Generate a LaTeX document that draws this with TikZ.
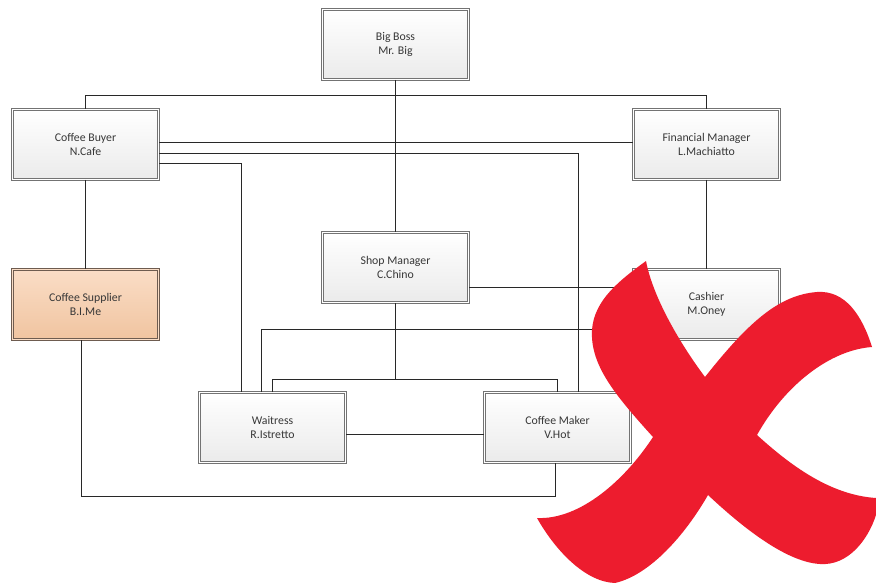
\documentclass[tikz,border=0pt]{standalone}
\usepackage{fontspec}
\setmainfont{Carlito}
\usetikzlibrary{shadows}
\definecolor{xred}{RGB}{237,28,46}
\definecolor{txt}{RGB}{55,55,55}
\definecolor{edgegray}{RGB}{115,115,115}
\definecolor{wirecol}{RGB}{40,40,40}
\definecolor{peachtop}{RGB}{250,221,198}
\definecolor{peachbot}{RGB}{240,196,160}
\definecolor{peachedge}{RGB}{110,92,80}
\begin{document}
\begin{tikzpicture}[x=1pt,y=-1pt,
  role/.style={draw=edgegray, line width=1pt, double=white, double distance=1pt,
    top color=white, bottom color=black!8, minimum width=146pt, minimum height=70pt,
    inner sep=0pt, align=center, font=\fontsize{11.8}{14.5}\selectfont, text=txt,
    drop shadow={shadow xshift=1.5pt, shadow yshift=-1.5pt, opacity=0.18, fill=black}},
  supplier/.style={role, draw=peachedge, double=peachtop, top color=peachtop, bottom color=peachbot},
  wire/.style={draw=wirecol, line width=1pt}]
\useasboundingbox (0,0) rectangle (876,583);
\fill[white] (0,0) rectangle (876,583);

\node[role] (boss) at (395.5,44.5) {Big Boss\\Mr. Big};
\node[role] (buyer) at (85.5,144.5) {Coffee Buyer\\N.Cafe};
\node[role] (fin) at (706.5,144.5) {Financial Manager\\L.Machiatto};
\node[supplier] (supp) at (85.5,304.5) {Coffee Supplier\\B.I.Me};
\node[role] (shop) at (395.5,267.5) {Shop Manager\\C.Chino};
\node[role] (cash) at (706.5,304.5) {Cashier\\M.Oney};
\node[role] (wait) at (272.5,427.5) {Waitress\\R.Istretto};
\node[role] (maker) at (557.5,427.5) {Coffee Maker\\V.Hot};

\coordinate (bb) at (395.5,95.5);
\coordinate (sj) at (395.5,379.5);
\coordinate (lowbus) at (81.5,496.5);
\draw[wire] (boss.south) -- (shop.north);
\draw[wire] (buyer.north) |- (bb) -| (fin.north);
\draw[wire] ([yshift=2pt]buyer.east) -- ([yshift=2pt]fin.west);
\draw[wire] ([yshift=-9pt]buyer.east) -| ([xshift=21pt]maker.north);
\draw[wire] ([yshift=-19pt]buyer.east) -| ([xshift=-31pt]wait.north);
\draw[wire] (buyer.south) -- (supp.north);
\draw[wire] ([xshift=-4pt]supp.south) -- (lowbus) -| ([xshift=-2pt]maker.south);
\draw[wire] (fin.south) -- (cash.north);
\draw[wire] ([yshift=-20pt]shop.east) -- ([yshift=17pt]cash.west);
\draw[wire] ([xshift=-11pt]wait.north) |- ([yshift=-25pt]cash.west);
\draw[wire] (shop.south) -- (sj);
\draw[wire] (wait.north) |- (sj) -| (maker.north);
\draw[wire] ([yshift=-7pt]wait.east) -- ([yshift=-7pt]maker.west);

\begin{scope}
\clip (0,0) rectangle (876,583);
\fill[xred] (646,261) .. controls (653,298) and (681,345) .. (705,377)
 .. controls (750,320) and (780,295) .. (817,292)
 .. controls (845,290) and (862,315) .. (872,347)
 .. controls (830,350) and (785,385) .. (757,435)
 .. controls (790,465) and (830,495) .. (876,498)
 -- (884,498) -- (884,512) -- (876,515)
 .. controls (868,540) and (848,566) .. (820,564)
 .. controls (785,562) and (740,525) .. (708,495)
 .. controls (685,535) and (650,575) .. (615,583)
 .. controls (585,582) and (555,550) .. (537,518)
 .. controls (580,520) and (625,480) .. (653,437)
 .. controls (615,395) and (590,365) .. (592,330)
 .. controls (594,300) and (620,280) .. (646,261) -- cycle;
\end{scope}
\end{tikzpicture}
\end{document}
